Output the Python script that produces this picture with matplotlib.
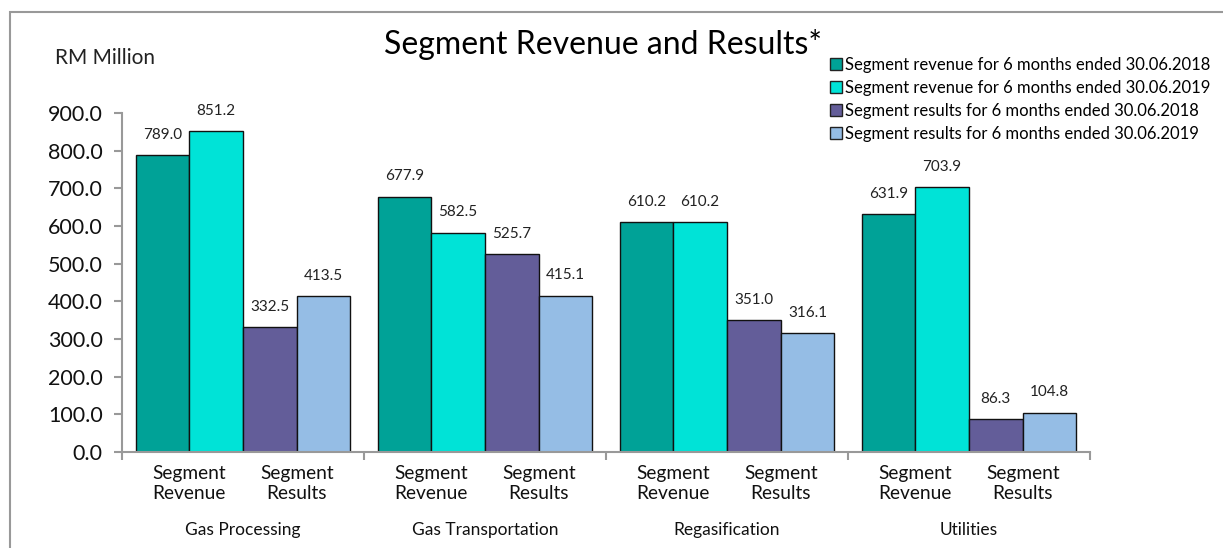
import matplotlib
matplotlib.use("Agg")
import matplotlib.pyplot as plt
from matplotlib.patches import Patch, Rectangle
import numpy as np

plt.rcParams['font.family'] = ['Lato', 'DejaVu Sans']

groups = ["Gas Processing", "Gas Transportation", "Regasification", "Utilities"]
sub_labels = ["Segment\nRevenue", "Segment\nResults"]
series_names = [
    "Segment revenue for 6 months ended 30.06.2018",
    "Segment revenue for 6 months ended 30.06.2019",
    "Segment results for 6 months ended 30.06.2018",
    "Segment results for 6 months ended 30.06.2019",
]
rev_2018 = [789.0, 677.9, 610.2, 631.9]
rev_2019 = [851.2, 582.5, 610.2, 703.9]
res_2018 = [332.5, 525.7, 351.0, 86.3]
res_2019 = [413.5, 415.1, 316.1, 104.8]
series = [rev_2018, rev_2019, res_2018, res_2019]
colors = ["#00A297", "#00E3D7", "#635D99", "#95BDE5"]
yticks = [0, 100, 200, 300, 400, 500, 600, 700, 800, 900]

W, H = 1223, 548
fig = plt.figure(figsize=(W / 100, H / 100), dpi=100)
ax = fig.add_axes([122 / W, 96 / H, (1090 - 122) / W, (452 - 113) / H])

w = 0.222
offsets = np.array([-1.5, -0.5, 0.5, 1.5]) * w
x = np.arange(len(groups)) + 0.5
for j, vals in enumerate(series):
    bars = ax.bar(x + offsets[j], vals, width=w, color=colors[j],
                  edgecolor="#111111", linewidth=1.0, zorder=2)
    for b, v in zip(bars, vals):
        ax.annotate(f"{v:.1f}", (b.get_x() + b.get_width() / 2, v),
                    xytext=(0, 9.5), textcoords="offset points",
                    ha="center", va="bottom", fontsize=11, color="#222222")

ax.set_xlim(0, len(groups))
ax.set_ylim(0, 900)
ax.set_yticks(yticks)
ax.set_yticklabels([f"{t:.1f}" for t in yticks], fontsize=15.5, color="#111111")
ax.set_xticks(np.arange(len(groups) + 1))
ax.set_xticklabels([])
for s in ["top", "right"]:
    ax.spines[s].set_visible(False)
for s in ["left", "bottom"]:
    ax.spines[s].set_color("#999999")
    ax.spines[s].set_linewidth(1.5)
ax.tick_params(axis="both", direction="out", length=6, width=1.5, color="#999999")
ax.tick_params(axis="y", pad=8)

tr = ax.get_xaxis_transform()
for i, g in enumerate(groups):
    for k, lab in enumerate(sub_labels):
        xc = x[i] + (offsets[2 * k] + offsets[2 * k + 1]) / 2
        ax.annotate(lab, (xc, 0), xycoords=tr, xytext=(0, -22.5),
                    textcoords="offset points", ha="center", va="center",
                    fontsize=13.8, color="#111111", linespacing=1.2,
                    annotation_clip=False)
    ax.annotate(g, (x[i], 0), xycoords=tr, xytext=(0, -56),
                textcoords="offset points", ha="center", va="center",
                fontsize=12.5, color="#111111", annotation_clip=False)

fig.text(603 / W, 1 - 44 / H, "Segment Revenue and Results*", ha="center",
         va="center", fontsize=23, color="#000000")
fig.text(55 / W, 1 - 58 / H, "RM Million", ha="left", va="center",
         fontsize=15, color="#222222")

handles = [Patch(facecolor=c, edgecolor="#222222", linewidth=1.0) for c in colors]
fig.legend(handles, series_names, loc="upper left",
           bbox_to_anchor=(830 / W, 1 - 57 / H), frameon=False,
           fontsize=12, handlelength=0.7, handleheight=0.7,
           handletextpad=0.2, labelspacing=0.42, borderpad=0, borderaxespad=0)

fig.patches.append(Rectangle((10 / W, -0.1), 1.2, 1.1 - 12 / H,
                             transform=fig.transFigure, fill=False,
                             edgecolor="#999999", linewidth=1.5, clip_on=False))

fig.savefig("out.png", dpi=100)
